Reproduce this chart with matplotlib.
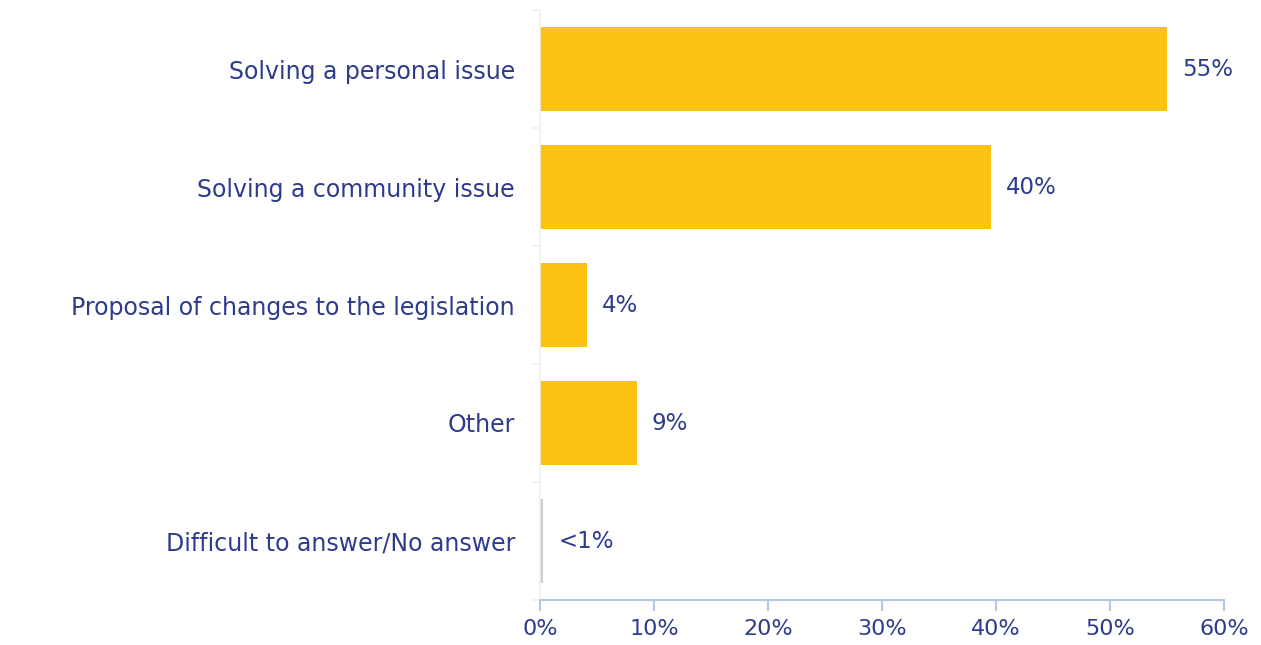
import matplotlib.pyplot as plt
from matplotlib.ticker import FixedLocator
from matplotlib.transforms import ScaledTranslation

categories = [
    'Solving a personal issue',
    'Solving a community issue',
    'Proposal of changes to the legislation',
    'Other',
    'Difficult to answer/No answer',
]
values = [55.0, 39.6, 4.1, 8.5, 0.3]
value_labels = ['55%', '40%', '4%', '9%', '<1%']
bar_colors = ['#FCC211', '#FCC211', '#FCC211', '#FCC211', '#CCCCCC']

TEXT = '#2E3B8C'
AXIS_BLUE = '#B4C8E8'

plt.rcParams['font.family'] = ['DejaVu Sans']

fig = plt.figure(figsize=(12.61, 6.45), dpi=100)
ax = fig.add_axes([540 / 1261, 1 - 600 / 645, 684 / 1261, 590 / 645])

y = list(range(len(categories)))
ax.barh(y, values, height=0.71, color=bar_colors, zorder=2)

for yi, v, lab in zip(y, values, value_labels):
    ax.text(v + 1.3, yi, lab, va='center', ha='left', fontsize=16.5, color=TEXT)

ax.set_xlim(0, 60)
ax.set_ylim(len(categories) - 0.5, -0.5)
ax.set_xticks(range(0, 61, 10))
ax.set_xticklabels([f'{t}%' for t in range(0, 61, 10)])
ax.set_yticks(y)
ax.set_yticklabels(categories)

# nudge category labels up a little so they sit on the bar centres
nudge = ScaledTranslation(0, 3 / 100, fig.dpi_scale_trans)
for t in ax.get_yticklabels():
    t.set_transform(t.get_transform() + nudge)

for s in ['top', 'right']:
    ax.spines[s].set_visible(False)
ax.spines['bottom'].set_color(AXIS_BLUE)
ax.spines['bottom'].set_linewidth(1.5)
ax.spines['left'].set_color('#F0F0F0')
ax.spines['left'].set_linewidth(1.2)

ax.tick_params(axis='x', colors=AXIS_BLUE, length=8, width=1.5, pad=6,
               labelsize=16, labelcolor=TEXT)
ax.tick_params(axis='y', which='major', length=0, pad=18, labelsize=17, labelcolor=TEXT)
ax.yaxis.set_minor_locator(FixedLocator([i - 0.5 for i in range(len(categories) + 1)]))
ax.tick_params(axis='y', which='minor', length=6, width=1.2, color='#F0F0F0')

fig.savefig('out.png', dpi=100)
